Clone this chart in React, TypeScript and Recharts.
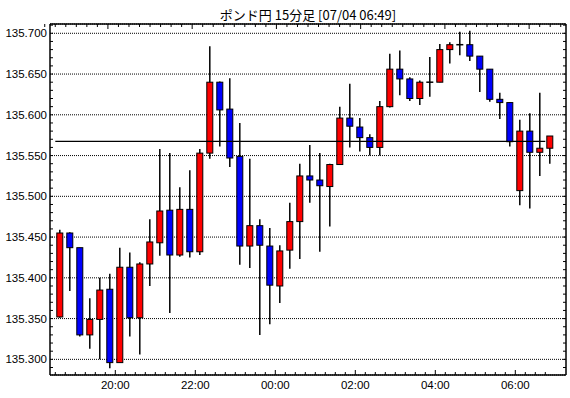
import React from 'react';
import {
  ComposedChart,
  Bar,
  XAxis,
  YAxis,
  CartesianGrid,
  ReferenceLine,
} from 'recharts';

const title = 'ポンド円 15分足 [07/04 06:49]';

const times = [
  '18:30', '18:45', '19:00', '19:15', '19:30', '19:45', '20:00', '20:15', '20:30', '20:45',
  '21:00', '21:15', '21:30', '21:45', '22:00', '22:15', '22:30', '22:45', '23:00', '23:15',
  '23:30', '23:45', '00:00', '00:15', '00:30', '00:45', '01:00', '01:15', '01:30', '01:45',
  '02:00', '02:15', '02:30', '02:45', '03:00', '03:15', '03:30', '03:45', '04:00', '04:15',
  '04:30', '04:45', '05:00', '05:15', '05:30', '05:45', '06:00', '06:15', '06:30', '06:45',
];

const opens = [
  135.352, 135.455, 135.437, 135.330, 135.349, 135.386, 135.296, 135.413, 135.351, 135.417,
  135.443, 135.483, 135.428, 135.484, 135.432, 135.553, 135.640, 135.607, 135.549, 135.439,
  135.464, 135.439, 135.390, 135.434, 135.469, 135.525, 135.520, 135.512, 135.539, 135.596,
  135.585, 135.572, 135.560, 135.610, 135.656, 135.644, 135.620, 135.640, 135.640, 135.680,
  135.686, 135.686, 135.672, 135.656, 135.619, 135.615, 135.507, 135.580, 135.554, 135.559,
];
const highs = [
  135.459, 135.456, 135.437, 135.375, 135.400, 135.405, 135.437, 135.431, 135.419, 135.472,
  135.558, 135.553, 135.511, 135.532, 135.558, 135.684, 135.641, 135.645, 135.590, 135.546,
  135.472, 135.461, 135.440, 135.492, 135.540, 135.563, 135.553, 135.540, 135.610, 135.638,
  135.596, 135.576, 135.617, 135.675, 135.679, 135.646, 135.642, 135.671, 135.687, 135.689,
  135.702, 135.703, 135.672, 135.656, 135.627, 135.615, 135.594, 135.602, 135.627, 135.574,
];
const lows = [
  135.351, 135.384, 135.328, 135.313, 135.300, 135.289, 135.296, 135.328, 135.306, 135.390,
  135.427, 135.357, 135.426, 135.425, 135.428, 135.546, 135.561, 135.536, 135.416, 135.412,
  135.330, 135.343, 135.369, 135.411, 135.423, 135.492, 135.432, 135.463, 135.539, 135.560,
  135.555, 135.550, 135.550, 135.609, 135.624, 135.617, 135.612, 135.622, 135.640, 135.663,
  135.673, 135.666, 135.628, 135.616, 135.595, 135.561, 135.489, 135.485, 135.525, 135.540,
];
const closes = [
  135.455, 135.437, 135.330, 135.349, 135.385, 135.296, 135.413, 135.351, 135.417, 135.444,
  135.482, 135.428, 135.484, 135.432, 135.553, 135.640, 135.606, 135.547, 135.439, 135.464,
  135.440, 135.391, 135.433, 135.469, 135.525, 135.520, 135.513, 135.539, 135.596, 135.586,
  135.572, 135.560, 135.610, 135.656, 135.644, 135.620, 135.640, 135.640, 135.680, 135.686,
  135.686, 135.672, 135.656, 135.619, 135.615, 135.567, 135.580, 135.554, 135.559, 135.574,
];

const xTickLabels = ['20:00', '22:00', '00:00', '02:00', '04:00', '06:00'];
const yTickLabels = [135.3, 135.35, 135.4, 135.45, 135.5, 135.55, 135.6, 135.65, 135.7];
const refLevel = 135.5675;
const refFromIndex = 0;
const refToIndex = 48;

const Y_DOMAIN: [number, number] = [135.2808, 135.7114];
const X_DOMAIN: [number, number] = [-1.03, 50.57];

const data = times.map((t, i) => ({
  i,
  time: t,
  open: opens[i],
  high: highs[i],
  low: lows[i],
  close: closes[i],
  range: [lows[i], highs[i]],
}));

// minor ticks at candle boundaries
const xTicks = times.map((_, i) => i - 0.5);
const majorXTick = new Map<number, string>();
xTickLabels.forEach((lab) => {
  const idx = times.indexOf(lab);
  if (idx >= 0) majorXTick.set(idx - 0.5, lab);
});

const yTicks: number[] = [];
for (let k = 29; k <= 71; k++) yTicks.push(Math.round((135 + k / 100) * 1000) / 1000);
const isMajorY = (v: number) => Math.round(v * 1000) % 50 === 0;

const FONT = '"Liberation Sans", Arial, sans-serif';

const Candle = (props: any) => {
  const { x, y, width, height, payload } = props;
  if (!payload) return null;
  const { open, close, high, low } = payload;
  const top = Math.min(y, y + height);
  const bot = Math.max(y, y + height);
  const span = high - low || 1;
  const py = (v: number) => top + ((high - v) / span) * (bot - top);
  const cx = x + width / 2;
  const yo = py(open);
  const yc = py(close);
  const wick = (
    <line x1={cx} x2={cx} y1={top} y2={bot} stroke="#000" strokeWidth={1.5} />
  );
  if (Math.abs(open - close) < 1e-9) {
    return (
      <g>
        {wick}
        <line x1={cx - 3.5} x2={cx + 3.5} y1={yo} y2={yo} stroke="#000" strokeWidth={1.5} />
      </g>
    );
  }
  const fill = close > open ? '#ff0000' : '#0000ff';
  const bt = Math.min(yo, yc);
  const bh = Math.abs(yo - yc);
  return (
    <g>
      {wick}
      <rect x={cx - 3} y={bt} width={6} height={bh} fill={fill} stroke="#000" strokeWidth={1} />
    </g>
  );
};

const BottomTick = (props: any) => {
  const { x, y, payload } = props;
  const lab = majorXTick.get(payload.value);
  return (
    <g>
      <line x1={x} x2={x} y1={y} y2={y - (lab ? 5 : 3)} stroke="#000" strokeWidth={1} />
      {lab && (
        <text x={x} y={y + 10} textAnchor="middle" dominantBaseline="central" fontSize={11.5} fontFamily={FONT} fill="#000">
          {lab}
        </text>
      )}
    </g>
  );
};

const TopTick = (props: any) => {
  const { x, y, payload } = props;
  const lab = majorXTick.get(payload.value);
  return <line x1={x} x2={x} y1={y} y2={y + (lab ? 5 : 3)} stroke="#000" strokeWidth={1} />;
};

const LeftTick = (props: any) => {
  const { x, y, payload } = props;
  const major = isMajorY(payload.value);
  return (
    <g>
      <line x1={x} x2={x + 3} y1={y} y2={y} stroke="#000" strokeWidth={1} />
      {major && (
        <text x={x - 3} y={y} textAnchor="end" dominantBaseline="central" fontSize={11.5} fontFamily={FONT} fill="#000">
          {Number(payload.value).toFixed(3)}
        </text>
      )}
    </g>
  );
};

const RightTick = (props: any) => {
  const { x, y } = props;
  return <line x1={x} x2={x - 3} y1={y} y2={y} stroke="#000" strokeWidth={1} />;
};

const axisLine = { stroke: '#000', strokeWidth: 1.5 };

export default function App() {
  return (
    <div style={{ position: 'absolute', left: 0, top: 0, width: 570, height: 398, background: '#fff' }}>
      <div
        style={{
          position: 'absolute',
          left: 50,
          width: 516,
          top: 8,
          textAlign: 'center',
          fontFamily: '"Noto Sans CJK JP", sans-serif',
          fontSize: 13,
          lineHeight: '13px',
          color: '#000',
        }}
      >
        {title}
      </div>
      <ComposedChart width={570} height={398} data={data} margin={{ top: 0, right: 0, bottom: 0, left: 0 }}>
        <XAxis
          xAxisId={0}
          dataKey="i"
          type="number"
          domain={X_DOMAIN}
          allowDataOverflow
          ticks={xTicks}
          interval={0}
          height={23}
          tickSize={0}
          tickMargin={0}
          tickLine={false}
          axisLine={axisLine}
          tick={<BottomTick />}
        />
        <XAxis
          xAxisId="top"
          orientation="top"
          type="number"
          domain={X_DOMAIN}
          allowDataOverflow
          ticks={xTicks}
          interval={0}
          height={24}
          tickSize={0}
          tickMargin={0}
          tickLine={false}
          axisLine={axisLine}
          tick={<TopTick />}
        />
        <YAxis
          yAxisId={0}
          type="number"
          domain={Y_DOMAIN}
          allowDataOverflow
          ticks={yTicks}
          interval={0}
          width={50}
          tickSize={0}
          tickMargin={0}
          tickLine={false}
          axisLine={axisLine}
          tick={<LeftTick />}
        />
        <YAxis
          yAxisId="right"
          orientation="right"
          type="number"
          domain={Y_DOMAIN}
          allowDataOverflow
          ticks={yTicks}
          interval={0}
          width={4}
          tickSize={0}
          tickMargin={0}
          tickLine={false}
          axisLine={axisLine}
          tick={<RightTick />}
        />
        <YAxis yAxisId="grid" hide type="number" domain={Y_DOMAIN} allowDataOverflow ticks={yTickLabels} />
        <CartesianGrid yAxisId="grid" vertical={false} stroke="#000" strokeDasharray="1 1" strokeWidth={1} />
        <Bar dataKey="range" barSize={7} shape={<Candle />} isAnimationActive={false} />
        <ReferenceLine
          segment={[
            { x: refFromIndex - 0.5, y: refLevel },
            { x: refToIndex + 0.5, y: refLevel },
          ]}
          stroke="#000"
          strokeWidth={1.3}
        />
      </ComposedChart>
    </div>
  );
}
